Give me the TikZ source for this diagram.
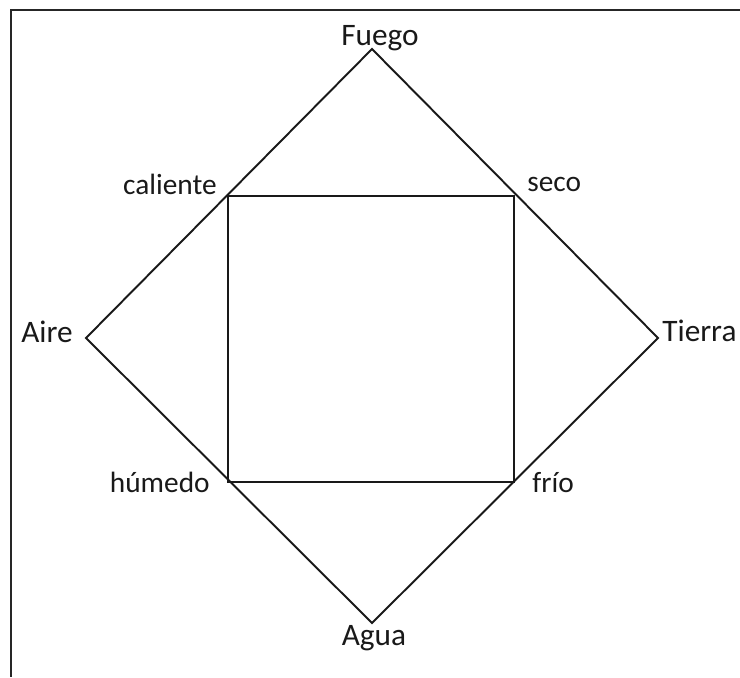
\documentclass[tikz,border=0pt]{standalone}
\usepackage{fontspec}
\setmainfont{Carlito}
\usetikzlibrary{positioning}

\begin{document}
\begin{tikzpicture}[
  x=0.02cm, y=-0.02cm,
  elem/.style={font=\fontsize{17.8}{20}\selectfont, text=black!90, inner sep=0pt},
  qual/.style={font=\fontsize{16.7}{19}\selectfont, text=black!90, inner sep=0pt},
  edge/.style={line width=1.1pt, black!90, line join=miter},
  frame/.style={line width=1.1pt, black!85}
]
\useasboundingbox (0,0) rectangle (740,677);

% frame
\draw[frame] (740,10) -- (11,10) -- (11,677);

% corners of the diamond
\coordinate (top) at (372,49);
\coordinate (lft) at (86,338);
\coordinate (rgt) at (658,338);
\coordinate (bot) at (372,623);

% corners of the square
\coordinate (cal) at (228,196);
\coordinate (sec) at (514,196);
\coordinate (fri) at (514,482);
\coordinate (hum) at (228,482);

\draw[edge] (top) -- (rgt) -- (bot) -- (lft) -- cycle;
\draw[edge] (cal) -- (sec) -- (fri) -- (hum) -- cycle;

% elements
\node[elem, anchor=base] (fuego) at ([shift={(8,-4)}]top) {Fuego};
\node[elem, anchor=base east] (aire) at ([shift={(-13,4)}]lft) {Aire};
\node[elem, anchor=base west] (tierra) at ([shift={(4,3)}]rgt) {Tierra};
\node[elem, anchor=base] (agua) at ([shift={(2,22)}]bot) {Agua};

% qualities
\node[qual, anchor=mid east] (caliente) at ([shift={(-11,-6)}]cal) {caliente};
\node[qual, anchor=mid west] (seco) at ([shift={(13,-9)}]sec) {seco};
\node[qual, anchor=mid east] (humedo) at ([shift={(-18,6)}]hum) {húmedo};
\node[qual, anchor=mid west] (frio) at ([shift={(18,6)}]fri) {frío};
\end{tikzpicture}
\end{document}
